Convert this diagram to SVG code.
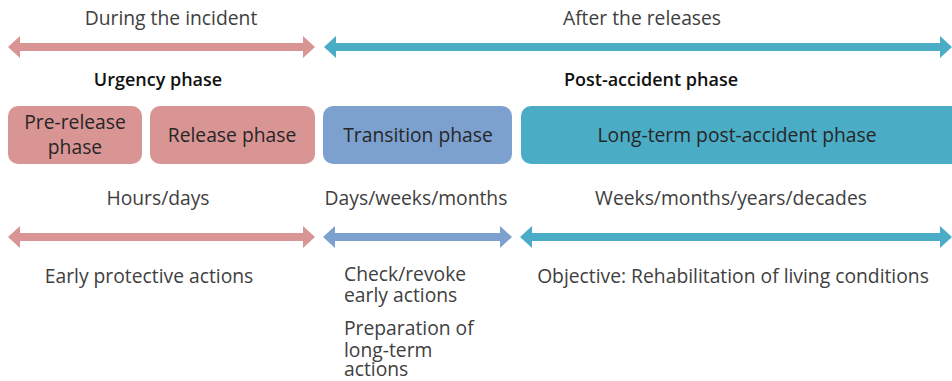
<svg xmlns="http://www.w3.org/2000/svg" width="952" height="381" viewBox="0 0 952 381">
  <style>
    text { font-family: "Open Sans", "Liberation Sans", Arial, sans-serif; font-size: 19.3px; fill: #404040; }
    .mid { text-anchor: middle; }
    .head { fill: #111; font-weight: 600; font-size: 18px; }
    .lbl { fill: #262626; }
    .pink { fill: #D99594; }
    .blue { fill: #7DA1CF; }
    .teal { fill: #4BACC6; }
  </style>

  <!-- period labels -->
  <text class="mid" x="171" y="25">During the incident</text>
  <text class="mid" x="642" y="25">After the releases</text>
  <text class="mid head" x="158" y="86">Urgency phase</text>
  <text class="mid head" x="651" y="86">Post-accident phase</text>

  <!-- double-headed timeline arrows -->
  <g id="connectors">
    <path class="pink" d="M8,47 L20,36 L20,43 L303,43 L303,36 L315,47 L303,58 L303,51 L20,51 L20,58 Z"/>
    <path class="teal" d="M324,47 L336,36 L336,43 L940,43 L940,36 L952,47 L940,58 L940,51 L336,51 L336,58 Z"/>
    <path class="pink" d="M8,237 L20,226 L20,233 L303,233 L303,226 L315,237 L303,248 L303,241 L20,241 L20,248 Z"/>
    <path class="blue" d="M323,237 L335,226 L335,233 L500,233 L500,226 L512,237 L500,248 L500,241 L335,241 L335,248 Z"/>
    <path class="teal" d="M520,237 L532,226 L532,233 L940,233 L940,226 L952,237 L940,248 L940,241 L532,241 L532,248 Z"/>
  </g>

  <!-- phase boxes -->
  <g id="pre-release">
    <rect class="pink" x="8" y="106" width="134" height="58" rx="10"/>
    <text class="mid lbl" x="75" y="129">Pre-release</text>
    <text class="mid lbl" x="75" y="154">phase</text>
  </g>
  <g id="release">
    <rect class="pink" x="150" y="106" width="165" height="58" rx="10"/>
    <text class="mid lbl" x="232" y="142">Release phase</text>
  </g>
  <g id="transition">
    <rect class="blue" x="323" y="106" width="189" height="58" rx="10"/>
    <text class="mid lbl" x="418" y="142">Transition phase</text>
  </g>
  <g id="long-term">
    <rect class="teal" x="521" y="106" width="440" height="58" rx="10"/>
    <text class="mid lbl" x="737" y="142">Long-term post-accident phase</text>
  </g>

  <!-- durations -->
  <text class="mid" x="158" y="205">Hours/days</text>
  <text class="mid" x="416" y="205">Days/weeks/months</text>
  <text class="mid" x="731" y="205">Weeks/months/years/decades</text>

  <!-- actions -->
  <text class="mid" x="149" y="283">Early protective actions</text>
  <text x="344" y="281">Check/revoke</text>
  <text x="344" y="302">early actions</text>
  <text x="344" y="335">Preparation of</text>
  <text x="344" y="357">long-term</text>
  <text x="344" y="376">actions</text>
  <text class="mid" x="733" y="283">Objective: Rehabilitation of living conditions</text>
</svg>
